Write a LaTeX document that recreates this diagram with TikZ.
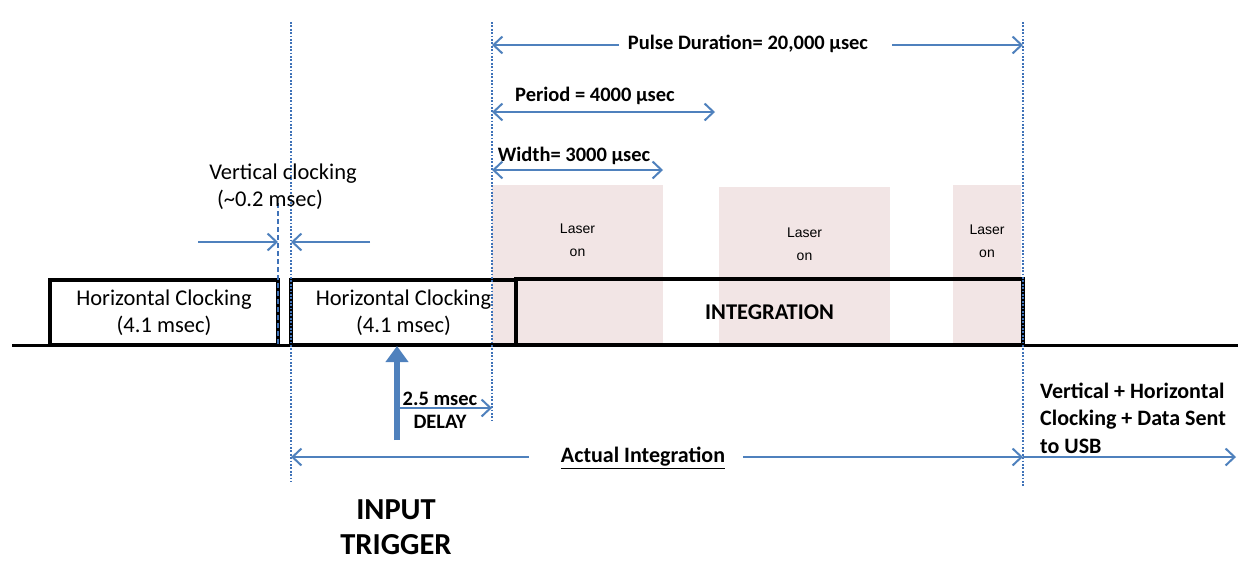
\documentclass[tikz,border=0pt]{standalone}
\usepackage{fontspec}
\setmainfont{Carlito}
\newfontfamily\laserfont{Liberation Sans}
\usetikzlibrary{arrows.meta,positioning}
\definecolor{lineblue}{HTML}{4F81BD}
\definecolor{markblue}{HTML}{3F72B8}
\definecolor{laserpink}{HTML}{F2E5E5}
\tikzset{wave/.style={%
  draw,
  line width=3pt,
  black,
  }
}
\tikzset{pulse/.style={%
  draw,
  line width=3.2pt,
  inner sep=0pt,
  align=center,
  font=\fontsize{22.5}{27}\selectfont,
  }
}
\tikzset{laser/.style={%
  fill=laserpink,
  draw=none,
  inner sep=0pt,
  }
}
\tikzset{lasertxt/.style={%
  inner sep=0pt,
  align=center,
  font=\laserfont\fontsize{14}{23}\selectfont,
  }
}
\tikzset{marker/.style={%
  markblue,
  line width=1.8pt,
  dash pattern=on 1.8pt off 1.6pt,
  }
}
\tikzset{vclock/.style={%
  markblue,
  line width=1.8pt,
  dash pattern=on 5pt off 3pt,
  }
}
\tikzset{dim/.style={%
  lineblue,
  line width=2.2pt,
  >={Straight Barb[length=9pt,width=17pt,line width=2pt]},
  }
}
\tikzset{trigger/.style={%
  lineblue,
  line width=5.5pt,
  -{Triangle[length=16pt,width=22pt]},
  }
}
\tikzset{lbl/.style={%
  inner sep=0pt,
  align=center,
  font=\bfseries\fontsize{20.5}{23}\selectfont,
  }
}
\tikzset{txt/.style={%
  inner sep=0pt,
  align=center,
  font=\fontsize{22.5}{27}\selectfont,
  }
}

\begin{document}
\begin{tikzpicture}[x=1pt,y=-1pt]
  \useasboundingbox (0,0) rectangle (1238,560);

  % laser on windows
  \node (las1) [laser, minimum width=171pt, minimum height=160pt] at (577.5,265) {};
  \node (las2) [laser, minimum width=171pt, minimum height=158pt] at (804.5,266) {};
  \node (las3) [laser, minimum width=68pt, minimum height=160pt] at (987,265) {};
  \node (lt1) [lasertxt, below=39pt of las1.north] {Laser\\on};
  \node (lt2) [lasertxt, below=41pt of las2.north] {Laser\\on};
  \node (lt3) [lasertxt, below=40pt of las3.north] {Laser\\on};

  % signal line and blocks
  \coordinate (base0) at (12,345);
  \coordinate (base1) at (1238,345);
  \draw [wave] (base0) -- (base1);
  \node (hc1) [pulse, minimum width=228pt, minimum height=65pt] at (164,312.5) {Horizontal Clocking\\(4.1 msec)};
  \node (hc2) [pulse, minimum width=225pt, minimum height=65pt] at (403.5,312.5) {Horizontal Clocking\\(4.1 msec)};
  \node (integ) [pulse, minimum width=507pt, minimum height=66pt, font=\bfseries\fontsize{22.5}{27}\selectfont] at (769.5,312) {INTEGRATION};

  % marker lines
  \coordinate (vct) at (278,203);
  \coordinate (vcb) at (278,346);
  \coordinate (m1t) at (291,22);
  \coordinate (m1b) at (291,482);
  \coordinate (m2t) at (492,22);
  \coordinate (m2b) at (492,420);
  \coordinate (m3t) at (1023,22);
  \coordinate (m3b) at (1023,486);
  \draw [vclock] (vct) -- (vcb);
  \draw [marker] (m1t) -- (m1b);
  \draw [marker] (m2t) -- (m2b);
  \draw [marker] (m3t) -- (m3b);

  % vertical clocking
  \node (vclbl) [txt] at (283,187) {Vertical clocking\\\hspace*{-26pt}(\textasciitilde0.2 msec)};
  \coordinate (vcl0) at (198,242);
  \coordinate (vcl1) at (278,242);
  \coordinate (vcr0) at (370,242);
  \coordinate (vcr1) at (291,242);
  \draw [dim, ->] (vcl0) -- (vcl1);
  \draw [dim, ->] (vcr0) -- (vcr1);

  % pulse timing
  \node (pdlbl) [lbl] at (748,44) {Pulse Duration= 20,000 µsec};
  \coordinate (pd0) at (492,45);
  \coordinate (pd1) at (1023,45);
  \draw [dim, <-] (pd0) -- ([xshift=-9pt]pdlbl.west |- pd0);
  \draw [dim, ->] ([xshift=24pt]pdlbl.east |- pd1) -- (pd1);
  \node (prlbl) [lbl] at (595,96) {Period = 4000 µsec};
  \coordinate (pr0) at (492,112);
  \coordinate (pr1) at (715,112);
  \draw [dim, <->] (pr0) -- (pr1);
  \node (wdlbl) [lbl] at (574,156) {Width= 3000 µsec};
  \coordinate (wd0) at (492,170);
  \coordinate (wd1) at (663,170);
  \draw [dim, <->] (wd0) -- (wd1);

  % trigger and delay
  \coordinate (trg0) at (397,440);
  \coordinate (trg1) at (397,346);
  \draw [trigger] (trg0) -- (trg1);
  \node (trglbl) [lbl, font=\bfseries\fontsize{30.5}{35}\selectfont] at (396,527) {INPUT\\TRIGGER};
  \coordinate (dl0) at (398,408);
  \coordinate (dl1) at (492,408);
  \draw [dim, ->] (dl0) -- (dl1);
  \node (dllbl) [lbl] at (440,410) {2.5 msec\\DELAY};

  % actual integration and readout
  \node (ailbl) [lbl, font=\bfseries\fontsize{22}{23}\selectfont] at (643,458) {\underline{Actual Integration}};
  \coordinate (ai0) at (291,457);
  \coordinate (ai1) at (1023,457);
  \coordinate (usb) at (1236,457);
  \draw [dim, <-] (ai0) -- ([xshift=-32pt]ailbl.west |- ai0);
  \draw [dim, ->] ([xshift=18pt]ailbl.east |- ai1) -- (ai1);
  \draw [dim, ->] (ai1) -- (usb);
  \node (usblbl) [lbl, align=left, anchor=west, font=\bfseries\fontsize{22}{27.5}\selectfont] at (1040,418) {Vertical + Horizontal\\Clocking + Data Sent\\to USB};
\end{tikzpicture}
\end{document}
